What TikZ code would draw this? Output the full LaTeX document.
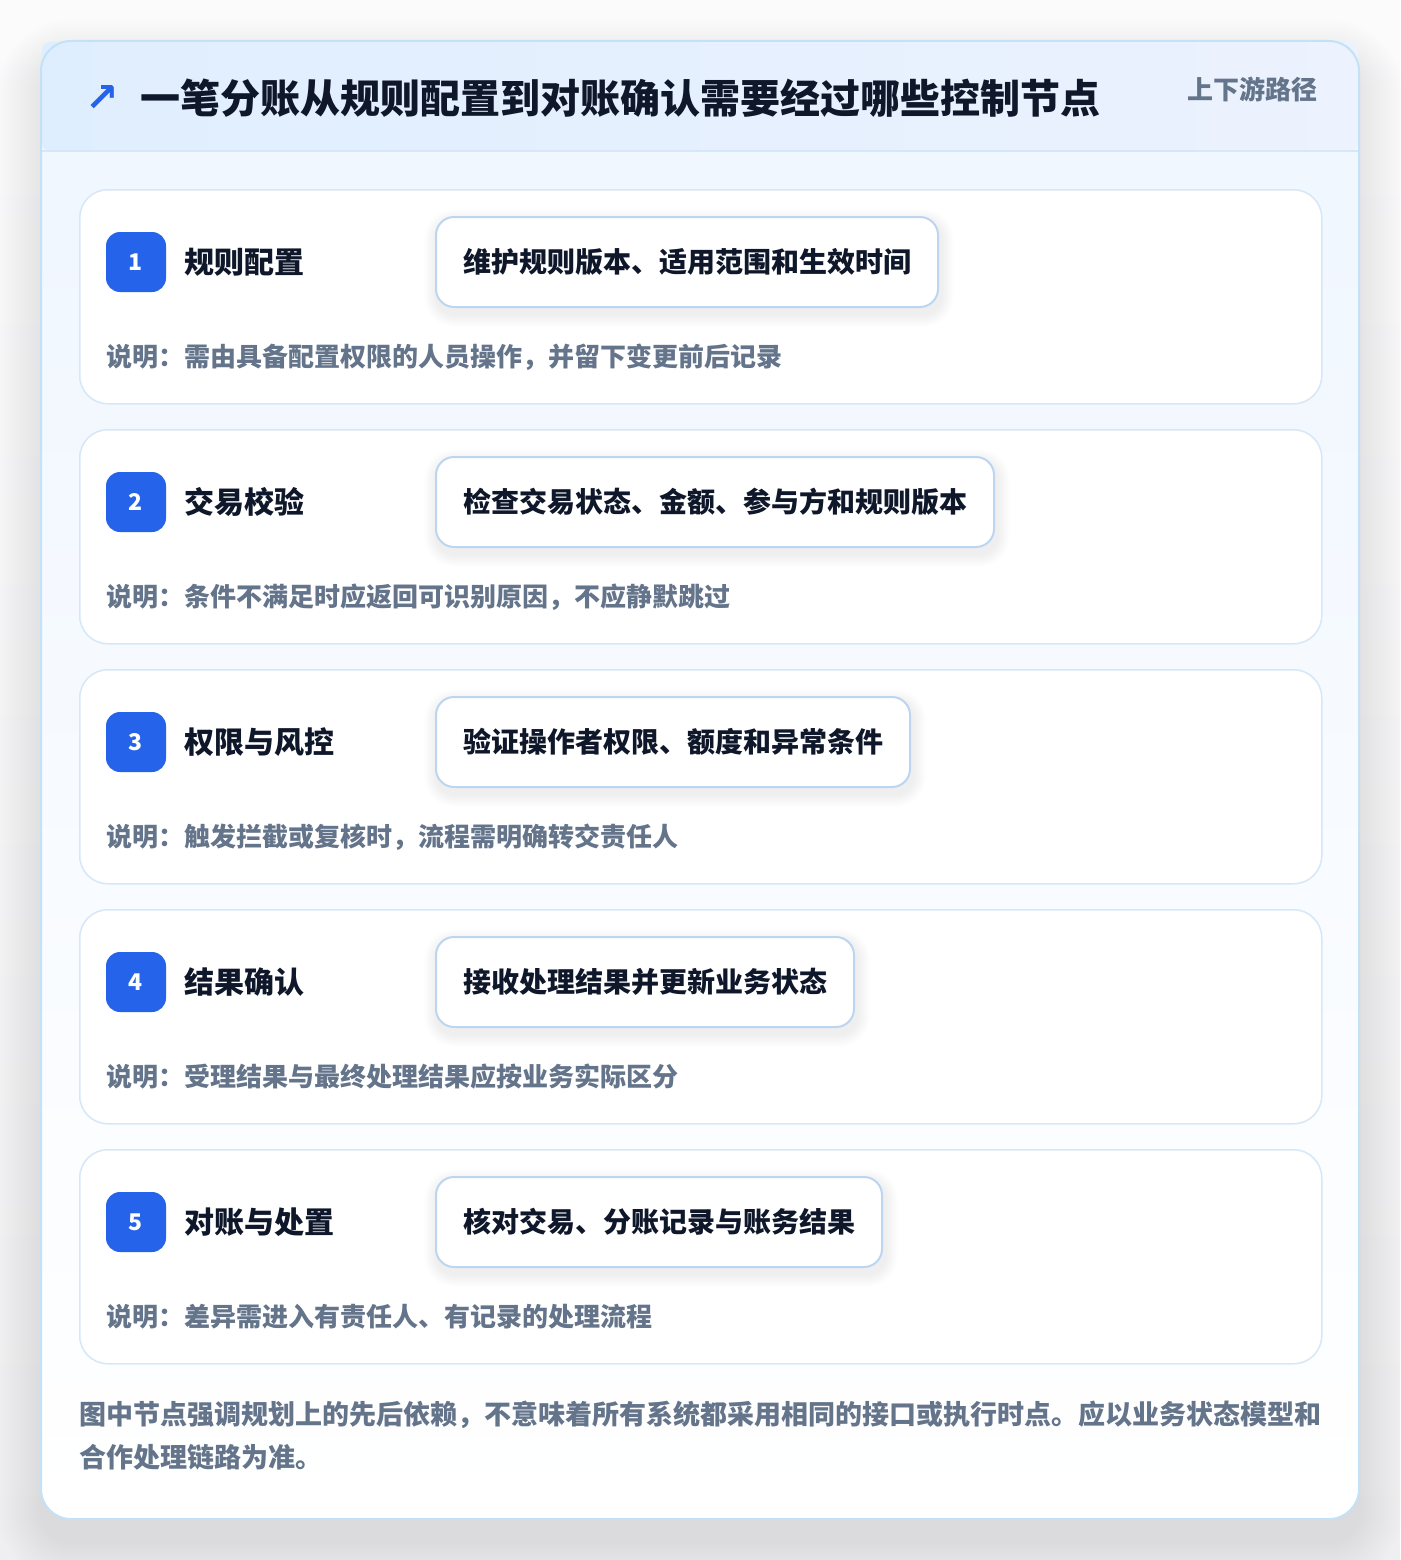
\documentclass[tikz,border=0pt]{standalone}
\usepackage{fontspec}
\setmainfont{Noto Sans CJK SC}
\newfontfamily\symfont{DejaVu Sans}
\definecolor{bgtop}{HTML}{FBFBFC}
\definecolor{bgbot}{HTML}{EFEFF1}
\definecolor{cardborder}{HTML}{C3E1F7}
\definecolor{bodytop}{HTML}{EFF6FF}
\definecolor{headleft}{HTML}{DFEEFE}
\definecolor{headright}{HTML}{ECF2FE}
\definecolor{headline}{HTML}{D5E7F9}
\definecolor{stepborder}{HTML}{D6E7F8}
\definecolor{boxborder}{HTML}{BCD5F1}
\definecolor{badgeblue}{HTML}{2563EB}
\definecolor{ink}{HTML}{0F172A}
\definecolor{muted}{HTML}{64748B}
\tikzset{
  stepcard/.style={draw=stepborder, line width=1.5pt, fill=white, rounded corners=28pt,
    minimum width=1242pt, minimum height=214pt, anchor=north west, inner sep=0pt},
  badge/.style={fill=badgeblue, rounded corners=14pt, minimum size=60pt, inner sep=0pt,
    text=white, font=\fontsize{23}{26}\selectfont\bfseries},
  steptitle/.style={anchor=west, inner sep=0pt, text=ink, font=\fontsize{30}{36}\selectfont\bfseries},
  actbox/.style={anchor=west, draw=boxborder, line width=2pt, fill=white, rounded corners=18pt,
    minimum height=90pt, inner xsep=27pt, inner ysep=0pt, text=ink,
    font=\fontsize{28}{34}\selectfont\bfseries},
  desc/.style={anchor=west, inner sep=0pt, text=muted, font=\fontsize{26}{32}\selectfont\bfseries},
  foot/.style={anchor=west, inner sep=0pt, text=muted, font=\fontsize{27}{34}\selectfont\bfseries},
  softshade/.style={fill=black, opacity=#1},
}
\begin{document}
\begin{tikzpicture}[x=1pt,y=-1pt]
\shade[top color=bgtop, bottom color=bgbot] (0,0) rectangle (1400,1560);
\useasboundingbox (0,0) rectangle (1400,1560);
% main card shadow
\foreach \k in {1,...,20}{
  \pgfmathsetmacro{\e}{\k*2.2}
  \pgfmathsetmacro{\r}{30+\e}
  \fill[softshade=0.0035, rounded corners=\r pt] (41-\e,41-\e+22) rectangle (1359+\e,1519+\e+22);
}
% main card
\path[rounded corners=30pt, top color=bodytop, bottom color=white]
  (41,41) rectangle (1359,1519);
% header
\path[rounded corners=8pt, left color=headleft, right color=headright] (42,42) rectangle (1358,151);
\draw[headline, line width=1.5pt] (42,151) -- (1358,151);
\draw[cardborder, line width=2pt, rounded corners=30pt] (41,41) rectangle (1359,1519);
\node[text=badgeblue, font=\fontsize{40}{44}\selectfont\symfont\bfseries, inner sep=0pt] (icon) at (102,99) {↗};
\node[anchor=west, inner sep=0pt, text=ink, font=\fontsize{40}{48}\selectfont\bfseries] (title) at (140,98)
  {一笔分账从规则配置到对账确认需要经过哪些控制节点};
\node[anchor=east, inner sep=0pt, text=muted, font=\fontsize{26}{32}\selectfont\bfseries] (tag) at (1318,89)
  {上下游路径};
% steps
\foreach \i/\y/\ttl/\act/\dsc in {
  1/189/{规则配置}/{维护规则版本、适用范围和生效时间}/{说明：需由具备配置权限的人员操作，并留下变更前后记录},
  2/429/{交易校验}/{检查交易状态、金额、参与方和规则版本}/{说明：条件不满足时应返回可识别原因，不应静默跳过},
  3/669/{权限与风控}/{验证操作者权限、额度和异常条件}/{说明：触发拦截或复核时，流程需明确转交责任人},
  4/909/{结果确认}/{接收处理结果并更新业务状态}/{说明：受理结果与最终处理结果应按业务实际区分},
  5/1149/{对账与处置}/{核对交易、分账记录与账务结果}/{说明：差异需进入有责任人、有记录的处理流程}}{
  \node[stepcard] (card\i) at (79,\y) {};
  \node[badge] (badge\i) at (136,\y+73) {\i};
  \node[steptitle] (ttl\i) at (184,\y+73) {\ttl};
  \node[actbox, opacity=0] (ghost\i) at (435,\y+73) {\act};
  \foreach \k in {1,...,8}{
    \pgfmathsetmacro{\e}{\k*1.6}
    \pgfmathsetmacro{\r}{18+\e}
    \fill[softshade=0.008, rounded corners=\r pt]
      ([xshift=-\e pt+2pt, yshift=\e pt-6pt]ghost\i.north west) rectangle
      ([xshift=\e pt+2pt, yshift=-\e pt-6pt]ghost\i.south east);
  }
  \node[actbox] (act\i) at (435,\y+73) {\act};
  \node[desc] (dsc\i) at (106,\y+168) {\dsc};
}
% footer
\node[foot] (foot1) at (79,1415) {图中节点强调规划上的先后依赖，不意味着所有系统都采用相同的接口或执行时点。应以业务状态模型和};
\node[foot] (foot2) at (79,1457) {合作处理链路为准。};
\end{tikzpicture}
\end{document}
